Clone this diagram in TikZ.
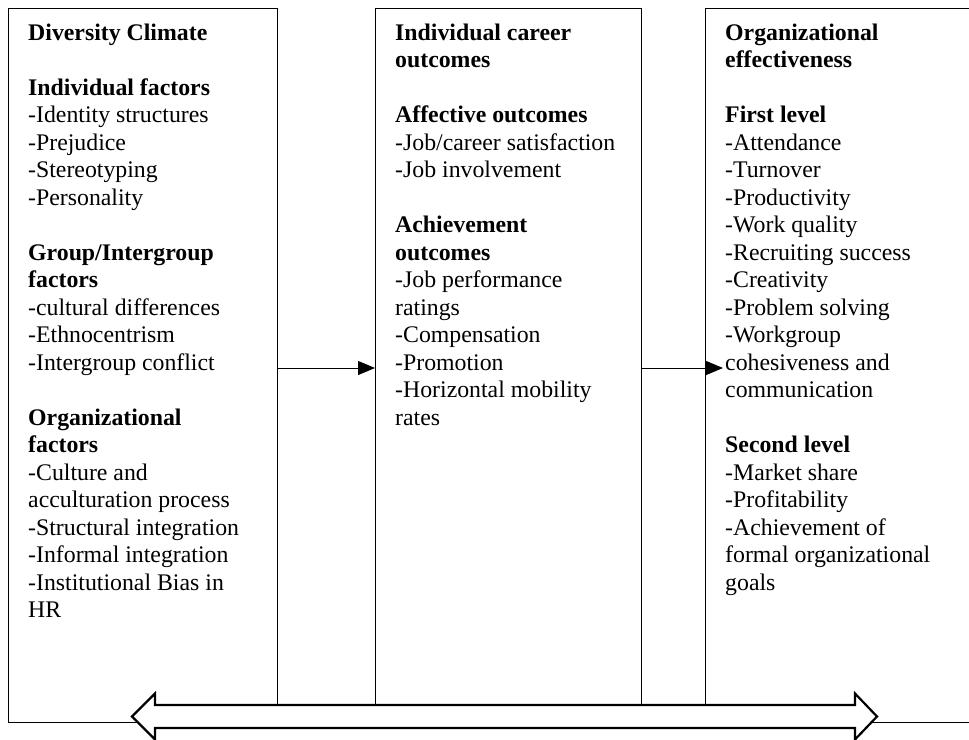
\documentclass[tikz,border=0pt]{standalone}
\usepackage{fontspec}
\setmainfont{Liberation Serif}
\usetikzlibrary{arrows.meta}
\begin{document}
\begin{tikzpicture}[
  x=1pt, y=-1pt,
  panel/.style={
    draw,
    line width=1pt,
    anchor=north west,
    minimum height=714pt,
    inner sep=0pt
  },
  column/.style={
    anchor=north west,
    align=left,
    inner sep=0pt,
    font=\fontsize{23.8}{27.5}\selectfont
  },
  link/.style={-{Triangle[length=17pt,width=14pt]}, line width=1pt},
  bigarrow/.style={draw, fill=white, line width=2.2pt, miter limit=4}
]
\clip (0,0) rectangle (969,739);

\node[panel, minimum width=269pt] (climate) at (8,8) {};
\node[panel, minimum width=266pt] (career) at (375,8) {};
\node[panel, minimum width=280pt] (effect) at (705,8) {};

\node[column] (climatetext) at (28,23) {\rule{0pt}{17pt}\textbf{Diversity Climate}\\[27.5pt]
  \textbf{Individual factors}\\
  -Identity structures\\
  -Prejudice\\
  -Stereotyping\\
  -Personality\\[27.5pt]
  \textbf{Group/Intergroup}\\
  \textbf{factors}\\
  -cultural differences\\
  -Ethnocentrism\\
  -Intergroup conflict\\[27.5pt]
  \textbf{Organizational}\\
  \textbf{factors}\\
  -Culture and\\
  acculturation process\\
  -Structural integration\\
  -Informal integration\\
  -Institutional Bias in\\
  HR};

\node[column] (careertext) at (395,23) {\rule{0pt}{17pt}\textbf{Individual career}\\
  \textbf{outcomes}\\[27.5pt]
  \textbf{Affective outcomes}\\
  -Job/career satisfaction\\
  -Job involvement\\[27.5pt]
  \textbf{Achievement}\\
  \textbf{outcomes}\\
  -Job performance\\
  ratings\\
  -Compensation\\
  -Promotion\\
  -Horizontal mobility\\
  rates};

\node[column] (effecttext) at (725,23) {\rule{0pt}{17pt}\textbf{Organizational}\\
  \textbf{effectiveness}\\[27.5pt]
  \textbf{First level}\\
  -Attendance\\
  -Turnover\\
  -Productivity\\
  -Work quality\\
  -Recruiting success\\
  -Creativity\\
  -Problem solving\\
  -Workgroup\\
  cohesiveness and\\
  communication\\[27.5pt]
  \textbf{Second level}\\
  -Market share\\
  -Profitability\\
  -Achievement of\\
  formal organizational\\
  goals};

\coordinate (flow) at (0,368);
\draw[link] (climate.east |- flow) -- (career.west |- flow);
\draw[link, shorten >=2pt] (career.east |- flow) -- (effecttext.west |- flow);

\draw[bigarrow] (132,716.5) -- (155,693.5) -- (155,705) -- (855,705) -- (855,693.5)
  -- (877,716.5) -- (855,739.5) -- (855,728) -- (155,728) -- (155,739.5) -- cycle;
\end{tikzpicture}
\end{document}
